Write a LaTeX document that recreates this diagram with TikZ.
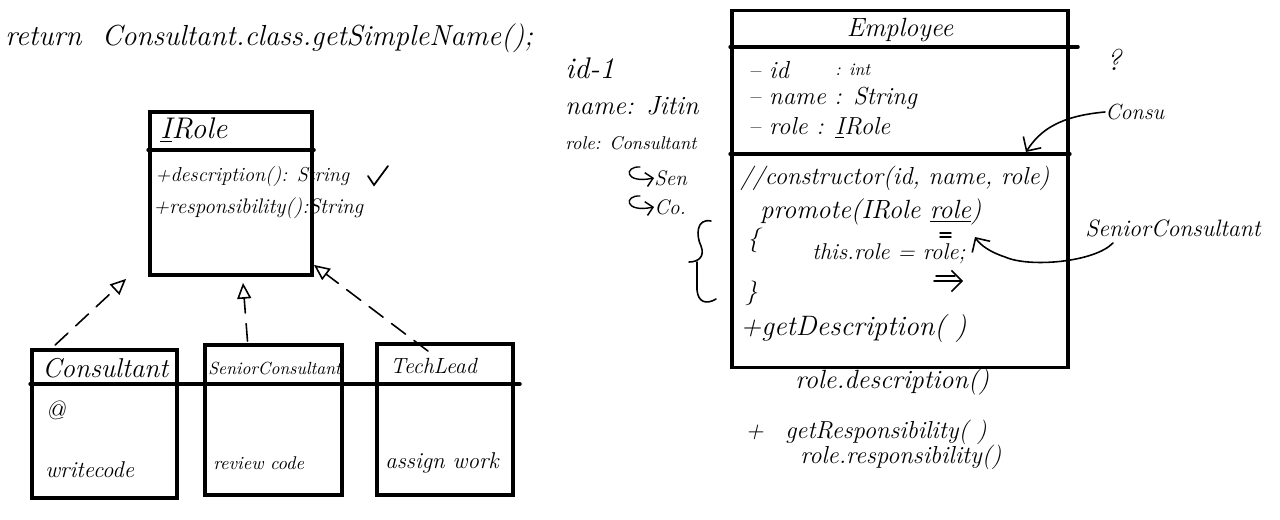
\documentclass[tikz,border=0pt]{standalone}
\usepackage{fontspec}
\usepackage{tikz}
\usetikzlibrary{arrows.meta,calc,positioning}

\begin{document}
\begin{tikzpicture}[x=0.02cm,y=-0.02cm,box/.style={draw,rectangle,line width=2.2pt,inner sep=0pt},hand/.style={draw=none,anchor=west,inner sep=0pt,font=\itshape\fontsize{#1}{#1}\selectfont},hand/.default=14,realize/.style={dashed,dash pattern=on 10pt off 6pt,line width=0.9pt,-{Triangle[open,length=9pt,width=8pt]}},note/.style={line width=0.9pt,-{Straight Barb[length=6pt]}},hook/.style={line width=0.8pt,-{Straight Barb[length=4pt]}},every path/.style={line cap=round}]
	\useasboundingbox (0,0) rectangle (1280,520);

	\node (top) at (5,38) [hand=16.5] {return\ \ Consultant.class.getSimpleName();};

	\node (irole) at (231,193.5) [box,minimum width=3.24cm,minimum height=3.26cm] {};
	\draw[line width=2pt] (irole.west |- 0,150) -- (314,150);
	\node (iroletitle) at (160,130) [hand=17] {\underline{I}Role};
	\node (desc) at (155,176) [hand=11.5] {+description(): String};
	\node (resp) at (153,208) [hand=12] {+responsibility():String};
	\draw[line width=1pt] (368,176) -- (374,185) -- (388,166);

	\node (cons) at (104.5,424) [box,minimum width=2.9cm,minimum height=2.96cm] {};
	\node (senior) at (273.5,420) [box,minimum width=2.74cm,minimum height=3cm] {};
	\node (tech) at (445,419.5) [box,minimum width=2.72cm,minimum height=3.02cm] {};
	\draw[line width=2pt] (cons.west |- 0,384) -- (520,384);

	\node (constitle) at (42,368) [hand=15.5] {Consultant};
	\node (at) at (45,410) [hand=15] {@};
	\node (write) at (45,470) [hand=13] {writecode};
	\node (seniortitle) at (208,368) [hand=10] {SeniorConsultant};
	\node (review) at (213,463) [hand=10.5] {review code};
	\node (techtitle) at (390,366) [hand=12.5] {TechLead};
	\node (assign) at (385,463) [hand=13] {assign work};

	\draw[realize] ($(cons.north west)+(25,-3)$) -- ($(irole.south west)+(-22,2)$);
	\draw[realize] ($(senior.north)+(-26,-2)$) -- ($(irole.south)+(12,6)$);
	\draw[realize] ($(tech.north)+(-17,9)$) -- ($(irole.south east)+(0,-12)$);

	\node (id) at (565,68) [hand=17] {id-1};
	\node (name) at (565,106) [hand=15] {name: Jitin};
	\node (role) at (565,143) [hand=10.5] {role: Consultant};
	\node (sen) at (654,178) [hand=12] {Sen};
	\node (cov) at (654,207) [hand=12] {Co.};
	\draw[hook] (640,167) .. controls (624,166) and (624,184) .. (sen.west);
	\draw[hook] (640,196) .. controls (624,195) and (624,213) .. (cov.west);

	\node (emp) at (900,189) [box,minimum width=6.72cm,minimum height=7.14cm] {};
	\draw[line width=2pt] (emp.west |- 0,47) -- (1078,47);
	\draw[line width=2pt] (emp.west |- 0,154) -- (emp.east |- 0,154);
	\node (emptitle) at (emp.north |- 0,30) [hand=15,anchor=center] {Employee};
	\node (aid) at (748,70) [hand=14] {-- id};
	\node (aint) at (835,70) [hand=10] {: int};
	\node (aname) at (748,98) [hand=14] {-- name : String};
	\node (arole) at (748,128) [hand=14] {-- role : \underline{I}Role};
	\node (ctor) at (740,178) [hand=14] {//constructor(id, name, role)};
	\node (promote) at (760,212) [hand=15] {promote(IRole \underline{role})};
	\node (open) at (747,240) [hand=14] {\{};
	\node (assignrole) at (812,254) [hand=13] {this.role = role;};
	\node (close) at (745,293) [hand=14] {\}};
	\node (getdesc) at (740,328) [hand=16] {+getDescription( )};
	\draw[line width=0.8pt] (940,233) -- (951,233) (940,237) -- (951,237);
	\draw[line width=0.8pt] (936,276) -- (955,276);
	\draw[note] (934,281) -- (963,281);

	\draw[line width=0.9pt] (711,221) .. controls (696,218) and (696,236) .. (701,246) .. controls (705,256) and (699,262) .. (689,262);
	\draw[line width=0.9pt] (697,262) -- (697,290) .. controls (698,302) and (706,305) .. (716,299);

	\node (roledesc) at (795,382) [hand=15] {role.description()};
	\node (plus) at (745,432) [hand=14] {+};
	\node (getresp) at (785,432) [hand=14] {getResponsibility( )};
	\node (roleresp) at (800,457) [hand=14] {role.responsibility()};

	\node (q) at (1106,60) [hand=17] {?};
	\node (consu) at (1105,112) [hand=12.5] {Consu};
	\coordinate (sect) at (1026,152);
	\draw[note] (consu.west) .. controls (1060,116) and (1040,130) .. (sect);

	\node (seniorlabel) at (1085,228) [hand=13.5] {SeniorConsultant};
	\coordinate (promrole) at (975,237);
	\draw[note] ($(seniorlabel.south west)+(28,6)$) .. controls (1095,262) and (1030,268) .. (1005,257) .. controls (990,252) and (980,245) .. (promrole);
\end{tikzpicture}
\end{document}
